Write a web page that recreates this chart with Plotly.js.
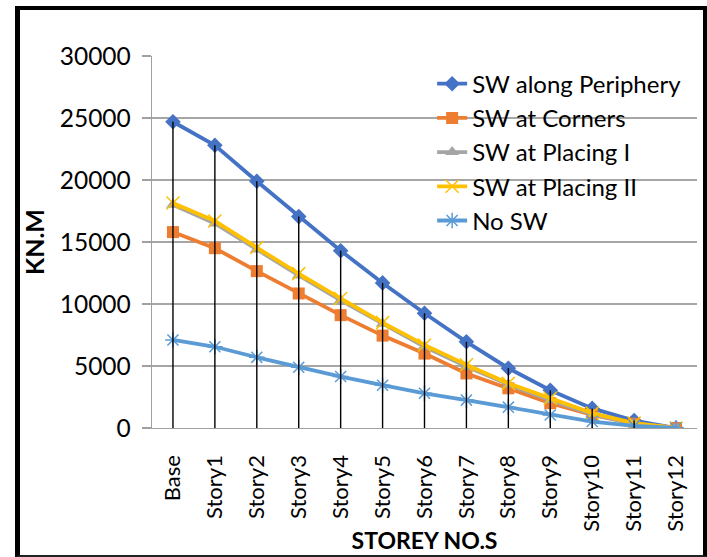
<!DOCTYPE html>
<html>
<head>
<meta charset="utf-8">
<script src="https://cdn.plot.ly/plotly-3.0.1.min.js"></script>
<style>
  html, body { margin: 0; padding: 0; background: #fff; }
  #wrap { position: relative; width: 707px; height: 557px; }
  #chart { position: absolute; left: 0; top: 0; width: 707px; height: 557px; }
  #frame { position: absolute; left: 15px; top: 6px; width: 683px; height: 545px;
           border-left: 5px solid #000; border-top: 4px solid #000; border-right: 5px solid #000;
           border-bottom: 2px solid #222; pointer-events: none; box-sizing: content-box; }
</style>
</head>
<body>
<div id="wrap">
  <div id="chart"></div>
  <div id="frame"></div>
</div>
<script>
const categories = ["Base", "Story1", "Story2", "Story3", "Story4", "Story5", "Story6",
                    "Story7", "Story8", "Story9", "Story10", "Story11", "Story12"];
const swPeriphery = [24700, 22800, 19900, 17050, 14300, 11700, 9250, 6950, 4820, 3050, 1580, 600, 0];
const swCorners   = [15800, 14500, 12650, 10850, 9100, 7450, 6000, 4400, 3200, 2000, 1050, 350, 0];
const swPlacing1  = [18000, 16500, 14400, 12300, 10300, 8400, 6550, 4950, 3500, 2250, 1100, 350, 0];
const swPlacing2  = [18150, 16700, 14550, 12450, 10450, 8500, 6700, 5100, 3600, 2400, 1200, 400, 0];
const noSW        = [7100, 6550, 5700, 4900, 4150, 3450, 2800, 2250, 1680, 1050, 520, 170, 0];
const seriesNames = ["SW along Periphery", "SW at Corners", "SW at Placing I", "SW at Placing II", "No SW"];
const yTicks = [0, 5000, 10000, 15000, 20000, 25000, 30000];

const FONT = "Lato, 'Open Sans', sans-serif";

function lineTrace(name, y, color, symbol, size, extraMarker) {
  return {
    type: "scatter", mode: "lines+markers", name: name,
    x: categories, y: y,
    line: { color: color, width: 3.8 },
    marker: Object.assign({ symbol: symbol, size: size, color: color }, extraMarker || {}),
    hoverinfo: "x+y+name"
  };
}

// drop lines from the highest series down to the axis
const dropX = [], dropY = [];
categories.forEach((c, i) => {
  const top = Math.max(swPeriphery[i], swCorners[i], swPlacing1[i], swPlacing2[i], noSW[i]);
  dropX.push(c, c, null);
  dropY.push(top, 0, null);
});

const traces = [
  lineTrace(seriesNames[0], swPeriphery, "#4472C4", "diamond", 12),
  lineTrace(seriesNames[1], swCorners, "#ED7D31", "square", 12),
  lineTrace(seriesNames[2], swPlacing1, "#A5A5A5", "triangle-up", 12),
  lineTrace(seriesNames[3], swPlacing2, "#FFC000", "x-thin-open", 13, { line: { color: "#FFC000", width: 1.5 } }),
  lineTrace(seriesNames[4], noSW, "#5B9BD5", "asterisk-open", 13, { line: { color: "#5B9BD5", width: 1.5 } }),
  {
    type: "scatter", mode: "lines", x: dropX, y: dropY,
    line: { color: "#000", width: 1.4 }, showlegend: false, hoverinfo: "skip",
    connectgaps: false
  }
];

const layout = {
  width: 707, height: 557,
  margin: { l: 152, r: 10, t: 56, b: 129, pad: 0 },
  paper_bgcolor: "#ffffff", plot_bgcolor: "#ffffff",
  font: { family: FONT, color: "#000" },
  showlegend: true,
  legend: {
    x: 0.514, y: 0.985, xanchor: "left", yanchor: "top",
    bgcolor: "rgba(0,0,0,0)", borderwidth: 0,
    font: { family: FONT, size: 24, color: "#000" },
    tracegroupgap: 0
  },
  xaxis: {
    type: "category", range: [-0.5, 12.5],
    showgrid: false, zeroline: false,
    showline: true, linecolor: "#a0a0a0", linewidth: 1.3,
    ticks: "", tickangle: -90,
    tickfont: { family: FONT, size: 22, color: "#000" },
    ticklabelstandoff: 17,
    title: { text: "STOREY NO.S", font: { family: FONT, size: 23, color: "#000", weight: "bold" }, standoff: 2 }
  },
  yaxis: {
    range: [0, 30000], tickvals: yTicks, ticktext: yTicks.map(String),
    showgrid: true, gridcolor: "#a6a6a6", gridwidth: 1.3,
    zeroline: false,
    showline: true, linecolor: "#a0a0a0", linewidth: 1.3,
    ticks: "outside", ticklen: 9, tickcolor: "#a0a0a0", tickwidth: 1.3,
    tickfont: { family: FONT, size: 24.5, color: "#000" },
    ticklabelstandoff: 6,
    title: { text: "KN.M", font: { family: FONT, size: 25, color: "#000", weight: "bold" }, standoff: 8 }
  }
};

Plotly.newPlot("chart", traces, layout, { displayModeBar: false, staticPlot: true });
</script>
</body>
</html>
